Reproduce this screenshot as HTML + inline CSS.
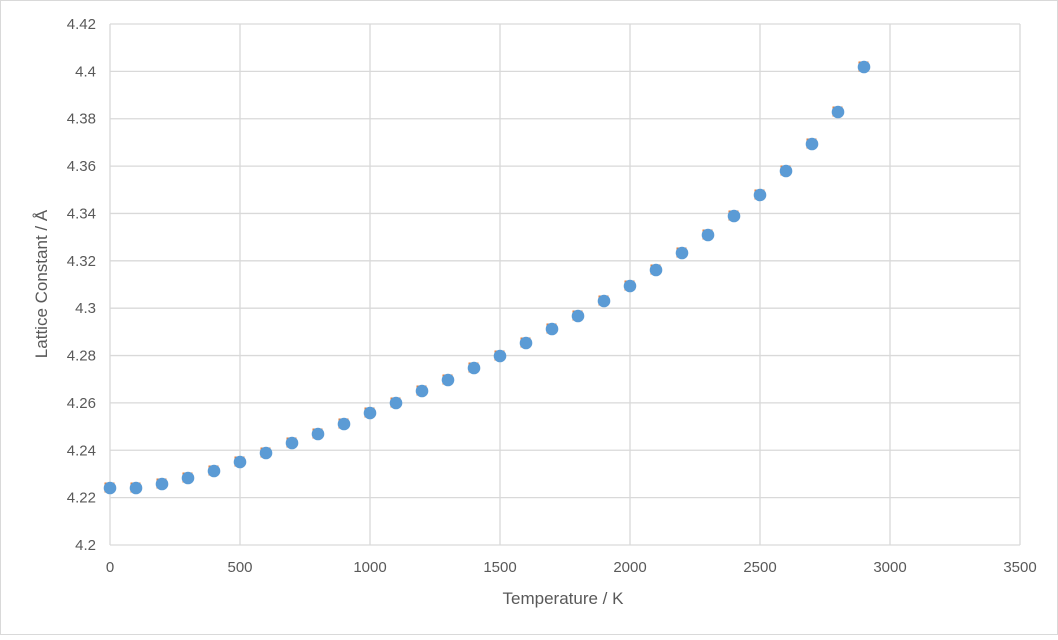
<!DOCTYPE html><html><head><style>body{margin:0;background:#fff}</style></head><body>
<svg width="1058" height="635" xmlns="http://www.w3.org/2000/svg" font-family="Liberation Sans, sans-serif">
<rect x="0.5" y="0.5" width="1057" height="634" fill="#fff" stroke="#d9d9d9"/>
<g stroke="#d9d9d9" stroke-width="1.3" id="g"></g>
<g id="t" font-size="15" fill="#595959"></g>
<g id="p"></g>
<text x="563" y="604" font-size="17" fill="#595959" text-anchor="middle">Temperature / K</text>
<text transform="translate(47,284) rotate(-90)" font-size="17" fill="#595959" text-anchor="middle">Lattice Constant / Å</text>
<script>
var ns="http://www.w3.org/2000/svg",g=document.getElementById('g'),t=document.getElementById('t'),p=document.getElementById('p');
function el(par,n,a,txt){var e=document.createElementNS(ns,n);for(var k in a)e.setAttribute(k,a[k]);if(txt!=null)e.textContent=txt;par.appendChild(e);}
for(var i=0;i<=11;i++){var y=24+i*(521/11);el(g,'line',{x1:110,x2:1020,y1:y,y2:y});
var v=(4.42-i*0.02);var s=+v.toFixed(2)+'';el(t,'text',{x:96,y:y+5,'text-anchor':'end'},s);}
for(var i=0;i<=7;i++){var x=110+i*130;el(g,'line',{x1:x,x2:x,y1:24,y2:545});el(t,'text',{x:x,y:572,'text-anchor':'middle'},i*500+'');}
var ys=[488,488,484,478,471,462,453,443,434,424,413,403,391,380,368,356,343,329,316,301,286,270,253,235,216,195,171,144,112,67];
ys.forEach(function(y,i){var x=110+0.26*i*100;el(p,'rect',{x:x-5.5,y:y-5.5,width:10,height:10,fill:'#ed7d31'});});
ys.forEach(function(y,i){var x=110+0.26*i*100;el(p,'circle',{cx:x,cy:y,r:6.3,fill:'#5b9bd5'});});
</script>
</svg></body></html>
